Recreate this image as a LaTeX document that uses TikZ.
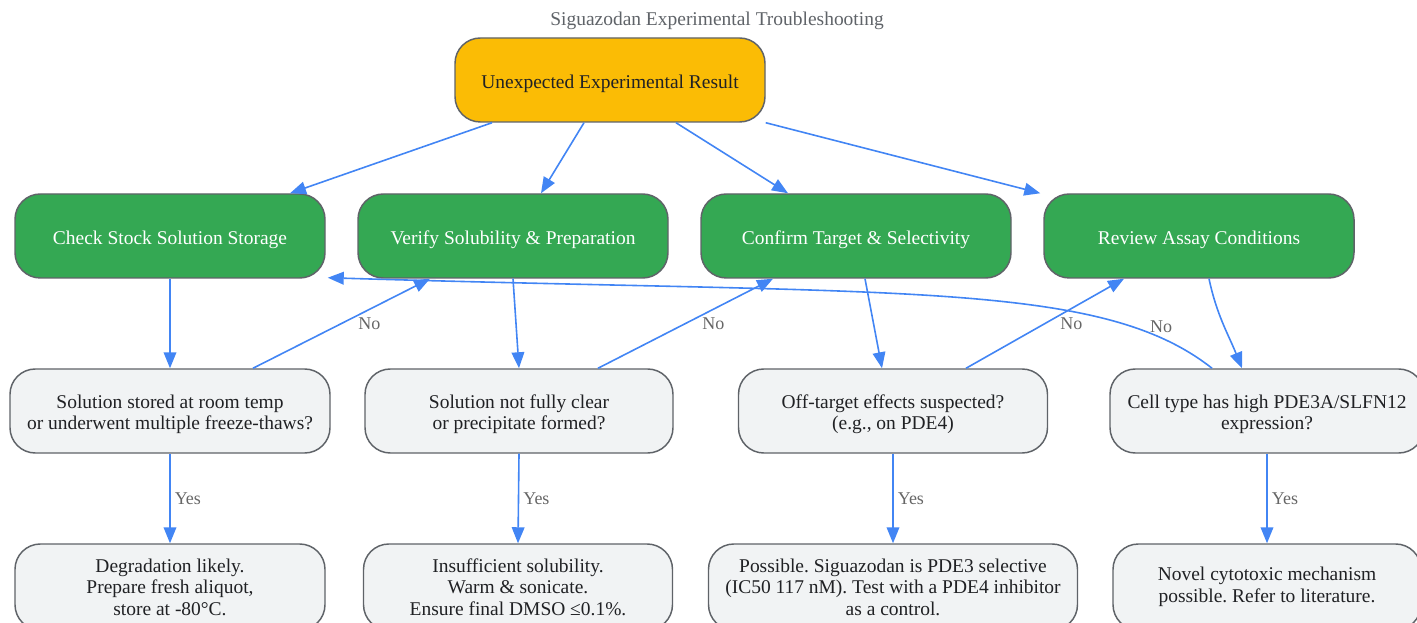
\documentclass[tikz,border=0pt]{standalone}
\usepackage{fontspec}
\setmainfont{Liberation Serif}
\frenchspacing
\usetikzlibrary{arrows.meta,positioning,calc}
\definecolor{gBlue}{HTML}{4285F4}
\definecolor{gYellow}{HTML}{FBBC05}
\definecolor{gGreen}{HTML}{34A853}
\definecolor{gGrey}{HTML}{F1F3F4}
\definecolor{gEdge}{HTML}{5F6368}
\definecolor{gText}{HTML}{202124}
\definecolor{gLabel}{HTML}{666666}
\tikzset{
  box/.style={draw=gEdge, line width=1.1pt, rounded corners=19pt,
    minimum width=232.5pt, minimum height=63pt, align=center,
    font=\fontsize{14.6}{16.2}\selectfont},
  rootbox/.style={box, fill=gYellow, text=gText, text height=16pt, text depth=3.2pt},
  checkbox/.style={box, fill=gGreen, text=white, text height=16pt, text depth=3.2pt},
  questbox/.style={box, fill=gGrey, text=gText, text height=31.3pt},
  fixbox/.style={box, fill=gGrey, text=gText, minimum height=64.5pt},
  arr/.style={draw=gBlue, line width=1.2pt,
    -{Triangle[length=12pt,width=9.5pt]}},
  lbl/.style={text=gLabel, font=\fontsize{13.5}{15}\selectfont, inner sep=1pt}
}

\begin{document}
\begin{tikzpicture}[x=0.75pt, y=-0.75pt]
  \useasboundingbox (0,0) rectangle (1417,623);
  \node[text=gEdge, font=\fontsize{14.6}{16}\selectfont] (title) at (717,21)
    {Siguazodan Experimental Troubleshooting};

  % top and checks
  \node[rootbox] (root) at (610,80) {Unexpected Experimental Result};
  \node[checkbox] (storage) at (170,236) {Check Stock Solution Storage};
  \node[checkbox] (solub) at (513,236) {Verify Solubility \& Preparation};
  \node[checkbox] (target) at (856,236) {Confirm Target \& Selectivity};
  \node[checkbox] (assay) at (1199,236) {Review Assay Conditions};

  % questions
  \node[questbox, minimum width=240pt] (qstore) at (170,411)
    {Solution stored at room temp\\or underwent multiple freeze-thaws?};
  \node[questbox, minimum width=231pt] (qsolub) at (519,411)
    {Solution not fully clear\\or precipitate formed?};
  \node[questbox, minimum width=231.75pt] (qtarget) at (893,411)
    {Off-target effects suspected?\\(e.g., on PDE4)};
  \node[questbox, minimum width=235.5pt] (qassay) at (1267,411)
    {Cell type has high PDE3A/SLFN12\\expression?};

  % fixes
  \node[fixbox] (fstore) at (170,587)
    {Degradation likely.\\Prepare fresh aliquot,\\store at -80°C.};
  \node[fixbox, minimum width=231.75pt] (fsolub) at (518,587)
    {Insufficient solubility.\\Warm \& sonicate.\\Ensure final DMSO ≤0.1\%.};
  \node[fixbox, minimum width=276.75pt] (ftarget) at (893,587)
    {Possible. Siguazodan is PDE3 selective\\(IC50 117 nM). Test with a PDE4 inhibitor\\as a control.};
  \node[fixbox, minimum width=231pt] (fassay) at (1267,587)
    {Novel cytotoxic mechanism\\possible. Refer to literature.};

  % edges
  \draw[arr] ($(root.south)+(-118,0)$) -- ($(storage.north)+(120,0)$);
  \draw[arr] ($(root.south)+(-26,0)$) -- ($(solub.north)+(28,0)$);
  \draw[arr] ($(root.south)+(66,0)$) -- ($(target.north)+(-68,0)$);
  \draw[arr] (root.south east) -- ($(assay.north west)+(-3,0)$);

  \draw[arr] (storage) -- (qstore);
  \draw[arr] (solub.south) -- (qsolub.north);
  \draw[arr] ($(target.south)+(9,0)$) -- ($(qtarget.north)+(-11,0)$);
  \draw[arr] ($(assay.south)+(10,0)$) to[out=-78, in=112] ($(qassay.north)+(-25,0)$);

  \draw[arr] ($(qstore.north)+(83,0)$) -- node[lbl, right=11pt] {No} ($(solub.south)+(-83,0)$);
  \draw[arr] ($(qsolub.north)+(79,0)$) -- node[lbl, right=11pt] {No} ($(target.south)+(-83,0)$);
  \draw[arr] ($(qtarget.north)+(73,0)$) -- node[lbl, right=10pt] {No} ($(assay.south)+(-75,0)$);
  \draw[arr] ($(qassay.north)+(-55,0)$) .. controls (1100,280) and (900,295)
    .. node[lbl, pos=0.2, right=12pt] {No} ($(storage.south east)+(2,-1)$);

  \foreach \q/\f in {qstore/fstore, qsolub/fsolub, qtarget/ftarget, qassay/fassay}
    \draw[arr] (\q.south) -- node[lbl, right=2pt] {Yes} (\f.north);
\end{tikzpicture}
\end{document}
